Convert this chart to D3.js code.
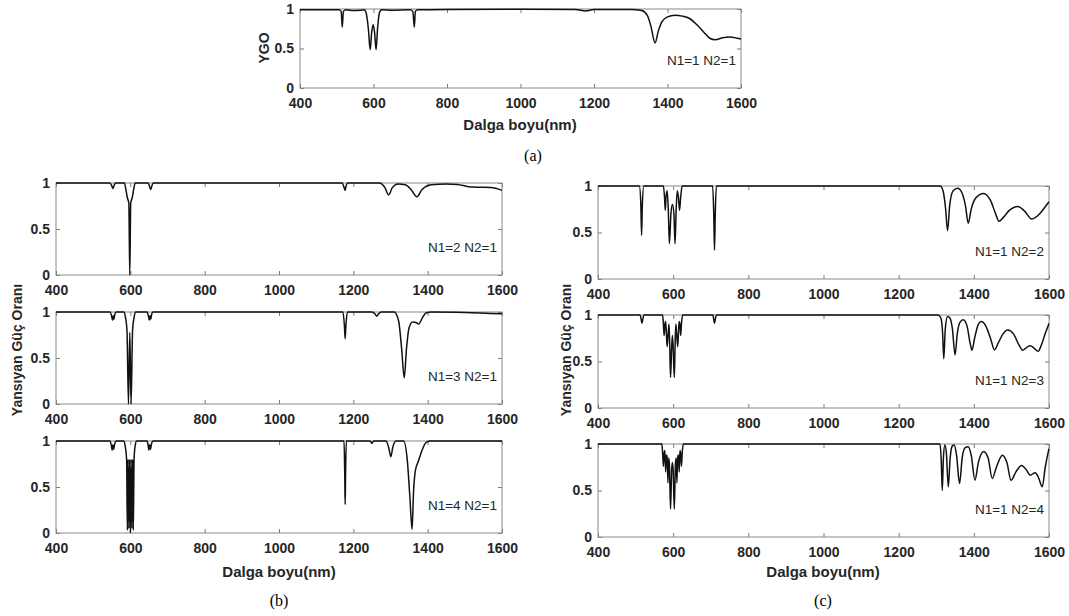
<!DOCTYPE html>
<html lang="tr">
<head>
<meta charset="UTF-8">
<title>Yansıyan Güç Oranı</title>
<script src="https://d3js.org/d3.v7.min.js"></script>
<style>
  body { margin: 0; background: #fff; }
  .tick text { font-family: "Liberation Sans", Arial, sans-serif; font-weight: bold; font-size: 14px; fill: #262626; }
  .tick line { stroke: #7a7a7a; }
</style>
</head>
<body>
<div class="chart"></div>
<script>
  // wavelength ticks and reflectance ticks
  const xTicks = [400, 600, 800, 1000, 1200, 1400, 1600];
  const yTicks = [0, 0.5, 1];

  // [wavelength nm, reflectance]
  const seriesA = [[400,0.99],[505,0.99],[512,0.97],[515,0.77],[518,0.97],[525,0.99],[545,0.98],[565,0.985],[575,0.99],[580,0.95],[586,0.75],[591,0.485],[595,0.7],[599,0.8],[603,0.7],[607,0.485],[611,0.75],[616,0.95],[622,0.99],[650,0.985],[700,0.99],[707,0.97],[711,0.77],[714,0.97],[720,0.99],[800,0.995],[1000,0.998],[1150,0.995],[1177,0.975],[1200,0.995],[1300,0.995],[1330,0.98],[1345,0.92],[1355,0.78],[1366,0.57],[1375,0.72],[1385,0.84],[1400,0.9],[1420,0.92],[1440,0.91],[1460,0.88],[1480,0.8],[1500,0.7],[1515,0.63],[1530,0.61],[1550,0.635],[1570,0.645],[1590,0.63],[1600,0.62]];

  const seriesB1 = [[400,1],[545,1],[550,0.97],[553,0.94],[556,0.97],[560,1],[584,1],[588,0.93],[592,0.84],[596,0.78],[598.5,0],[601,0.78],[605,0.84],[609,0.93],[613,1],[648,1],[652,0.96],[655,0.93],[658,0.97],[662,1],[1170,1],[1176,0.94],[1178,0.92],[1180,0.96],[1185,1],[1270,1],[1285,0.95],[1295,0.87],[1305,0.95],[1320,0.99],[1340,0.98],[1355,0.93],[1371,0.85],[1385,0.93],[1410,0.98],[1450,0.99],[1480,0.985],[1510,0.96],[1530,0.955],[1570,0.95],[1600,0.92]];

  const seriesB2 = [[400,1],[545,1],[550,0.95],[552,0.91],[554,0.96],[556,0.92],[558,0.97],[562,1],[583,1],[587,0.94],[591,0.8],[595,0],[598.5,0.78],[602,0],[606,0.8],[610,0.94],[614,1],[645,1],[649,0.95],[651,0.91],[653,0.96],[655,0.92],[657,0.97],[661,1],[1172,1],[1176,0.85],[1178,0.71],[1180,0.85],[1184,1],[1250,1],[1258,0.98],[1263,0.955],[1268,0.98],[1275,1],[1310,1],[1322,0.9],[1330,0.6],[1337,0.285],[1343,0.6],[1350,0.83],[1360,0.89],[1368,0.885],[1376,0.87],[1385,0.93],[1395,0.99],[1410,1],[1500,0.995],[1600,0.98]];

  const seriesB3 = [[400,1],[545,1],[549,0.95],[551,0.9],[553,0.96],[555,0.91],[558,0.97],[562,1],[582,1],[586,0.95],[590,0.8],[592,0.03],[594,0.8],[596,0.05],[598,0.8],[600,0],[602,0.8],[604,0.05],[606,0.8],[608,0.03],[610,0.8],[613,0.95],[617,1],[645,1],[648,0.95],[650,0.9],[652,0.96],[654,0.91],[657,0.97],[661,1],[1175,1],[1177,0.6],[1178,0.31],[1179,0.6],[1181,1],[1245,1],[1250,0.975],[1255,1],[1288,1],[1295,0.93],[1301,0.83],[1306,0.93],[1315,1],[1335,1],[1345,0.8],[1352,0.4],[1358,0.04],[1362,0.45],[1367,0.68],[1375,0.78],[1385,0.9],[1395,0.98],[1405,1],[1600,1]];

  const seriesC1 = [[400,1],[510,1],[514,0.8],[516,0.47],[518,0.8],[522,1],[574,1],[577,0.88],[579,0.74],[581,0.88],[584,0.95],[587,0.75],[590,0.38],[594,0.7],[598,0.8],[602,0.7],[605,0.38],[608,0.75],[611,0.95],[614,0.88],[617,0.74],[620,0.88],[624,1],[705,1],[708,0.7],[710,0.31],[712,0.7],[715,1],[1310,1],[1318,0.95],[1325,0.75],[1330,0.52],[1336,0.8],[1345,0.95],[1357,0.975],[1368,0.93],[1378,0.78],[1385,0.6],[1393,0.75],[1405,0.87],[1426,0.92],[1445,0.84],[1458,0.7],[1467,0.62],[1478,0.66],[1495,0.74],[1517,0.78],[1535,0.73],[1554,0.645],[1570,0.68],[1585,0.75],[1600,0.83]];

  const seriesC2 = [[400,1],[512,1],[515,0.95],[517,0.91],[519,0.95],[522,1],[572,1],[574,0.9],[576,0.78],[578,0.9],[580,0.93],[582,0.8],[584,0.66],[587,0.82],[589,0.9],[591,0.65],[593,0.33],[596,0.65],[598,0.78],[600,0.65],[603,0.33],[605,0.65],[607,0.9],[609,0.82],[612,0.66],[614,0.8],[616,0.93],[618,0.9],[620,0.78],[622,0.9],[625,1],[706,1],[708,0.95],[710,0.91],[712,0.95],[715,1],[1305,1],[1312,0.97],[1317,0.8],[1320,0.53],[1324,0.85],[1330,0.985],[1336,0.97],[1343,0.85],[1350,0.57],[1356,0.8],[1363,0.92],[1372,0.95],[1382,0.88],[1390,0.7],[1395,0.62],[1402,0.75],[1412,0.9],[1420,0.93],[1432,0.88],[1445,0.74],[1455,0.625],[1465,0.7],[1478,0.8],[1490,0.84],[1505,0.8],[1520,0.68],[1530,0.62],[1540,0.65],[1550,0.67],[1560,0.645],[1571,0.61],[1580,0.68],[1590,0.8],[1600,0.91]];

  const seriesC3 = [[400,1],[570,1],[572,0.9],[574,0.76],[576,0.9],[578,0.93],[580,0.7],[582,0.88],[584,0.88],[586,0.58],[588,0.85],[590,0.78],[593,0.3],[596,0.72],[598,0.8],[600,0.72],[603,0.3],[606,0.78],[608,0.85],[610,0.58],[612,0.88],[614,0.88],[616,0.7],[618,0.93],[620,0.9],[622,0.76],[624,0.9],[627,1],[1310,1],[1313,0.85],[1316,0.5],[1319,0.85],[1323,0.99],[1327,0.9],[1332,0.54],[1337,0.85],[1343,0.98],[1348,0.99],[1354,0.88],[1362,0.575],[1369,0.85],[1377,0.96],[1385,0.97],[1393,0.88],[1403,0.61],[1412,0.8],[1426,0.92],[1438,0.85],[1449,0.63],[1460,0.75],[1476,0.88],[1488,0.8],[1499,0.61],[1512,0.7],[1527,0.77],[1540,0.72],[1550,0.665],[1563,0.69],[1572,0.64],[1582,0.54],[1590,0.75],[1600,0.95]];

  const notes = ['N1=1 N2=1', 'N1=2 N2=1', 'N1=3 N2=1', 'N1=4 N2=1', 'N1=1 N2=2', 'N1=1 N2=3', 'N1=1 N2=4'];

  // panel boxes in page pixels
  const panels = [
    {data: seriesA,  note: notes[0], left: 300, right: 741,  top: 9,   bottom: 88},
    {data: seriesB1, note: notes[1], left: 56,  right: 502,  top: 183, bottom: 275},
    {data: seriesB2, note: notes[2], left: 56,  right: 502,  top: 312, bottom: 404},
    {data: seriesB3, note: notes[3], left: 56,  right: 502,  top: 441, bottom: 533},
    {data: seriesC1, note: notes[4], left: 598, right: 1049, top: 186, bottom: 279},
    {data: seriesC2, note: notes[5], left: 598, right: 1049, top: 315, bottom: 408},
    {data: seriesC3, note: notes[6], left: 598, right: 1049, top: 444, bottom: 537}
  ];

  const svg = d3.select('.chart').append('svg')
    .attr('width', 1069).attr('height', 616)
    .style('font-family', '"Liberation Sans", Arial, sans-serif');

  panels.forEach(p => {
    const w = p.right - p.left, h = p.bottom - p.top;
    const x = d3.scaleLinear().domain([400, 1600]).range([0, w]);
    const y = d3.scaleLinear().domain([0, 1]).range([h, 0]);
    const g = svg.append('g').attr('transform', `translate(${p.left} ${p.top})`);

    g.append('g').attr('transform', `translate(0 ${h})`)
      .call(d3.axisBottom(x).tickValues(xTicks).tickSizeInner(-4).tickSizeOuter(0).tickPadding(10).tickFormat(d => String(d)));
    g.append('g')
      .call(d3.axisTop(x).tickValues(xTicks).tickSizeInner(-4).tickSizeOuter(0).tickFormat(''));
    g.append('g')
      .call(d3.axisLeft(y).tickValues(yTicks).tickSizeInner(-4).tickSizeOuter(0).tickPadding(6).tickFormat(d => String(d)));
    g.append('g').attr('transform', `translate(${w} 0)`)
      .call(d3.axisRight(y).tickValues(yTicks).tickSizeInner(-4).tickSizeOuter(0).tickFormat(''));
    g.selectAll('.domain').remove();

    g.append('rect').attr('width', w).attr('height', h)
      .attr('fill', 'none').attr('stroke', '#8a8a8a').attr('stroke-width', 1);

    const line = d3.line().x(d => x(d[0])).y(d => y(d[1])).curve(d3.curveMonotoneX);
    g.append('path').attr('d', line(p.data))
      .attr('fill', 'none').attr('stroke', '#111').attr('stroke-width', 1.5);

    g.append('text').attr('x', w - 5).attr('y', h - 28).attr('dy', '0.35em')
      .attr('text-anchor', 'end').style('font-size', '13.5px').attr('fill', '#262626')
      .text(p.note);
  });

  // axis titles
  const titles = [
    {t: 'Dalga boyu(nm)', x: 520, y: 125},
    {t: 'Dalga boyu(nm)', x: 279, y: 572},
    {t: 'Dalga boyu(nm)', x: 823, y: 572}
  ];
  titles.forEach(d => svg.append('text').attr('x', d.x).attr('y', d.y).attr('dy', '0.35em')
    .attr('text-anchor', 'middle').style('font-size', '15px').style('font-weight', 'bold')
    .attr('fill', '#262626').text(d.t));

  const yTitles = [
    {t: 'YGO', x: 264, y: 48},
    {t: 'Yansıyan Güç Oranı', x: 17, y: 350},
    {t: 'Yansıyan Güç Oranı', x: 566, y: 350}
  ];
  yTitles.forEach(d => svg.append('text').attr('transform', `translate(${d.x} ${d.y}) rotate(-90)`)
    .attr('dy', '0.35em').attr('text-anchor', 'middle').style('font-size', '14px').style('font-weight', 'bold')
    .attr('fill', '#262626').text(d.t));

  // sub-figure captions
  const captions = [
    {t: '(a)', x: 533, y: 155},
    {t: '(b)', x: 279, y: 600},
    {t: '(c)', x: 823, y: 600}
  ];
  captions.forEach(d => svg.append('text').attr('x', d.x).attr('y', d.y).attr('dy', '0.35em')
    .attr('text-anchor', 'middle').style('font-family', '"Liberation Serif", "Times New Roman", serif')
    .style('font-size', '16px').attr('fill', '#000').text(d.t));
</script>
</body>
</html>
